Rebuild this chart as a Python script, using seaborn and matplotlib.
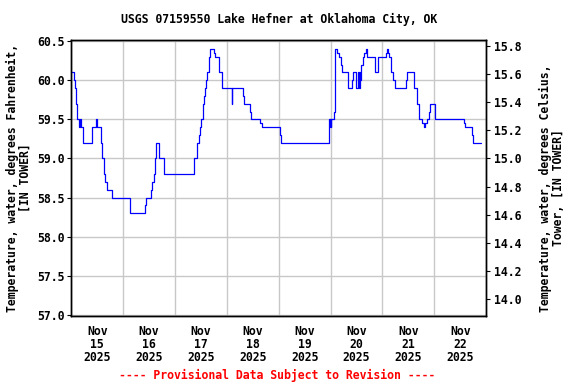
import numpy as np
import pandas as pd
import matplotlib
matplotlib.use("Agg")
import matplotlib.pyplot as plt
import matplotlib.dates as mdates
import seaborn as sns

# ---- data (days since 2025-11-15 00:00, water temperature in deg F) ----
day_offsets = [
    0.000, 0.044, 0.063, 0.095, 0.108, 0.153, 0.165, 0.178, 0.230, 0.403,
    0.480, 0.500, 0.577, 0.596, 0.622, 0.654, 0.680, 0.789, 1.135, 1.412,
    1.431, 1.540, 1.559, 1.585, 1.611, 1.636, 1.688, 1.778, 1.791, 2.368,
    2.426, 2.459, 2.478, 2.497, 2.542, 2.561, 2.580, 2.600, 2.619, 2.658,
    2.677, 2.754, 2.773, 2.850, 2.908, 3.088, 3.101, 3.319, 3.338, 3.454,
    3.473, 3.647, 3.667, 4.019, 4.045, 4.969, 4.980, 4.995, 5.005, 5.015,
    5.060, 5.079, 5.092, 5.131, 5.156, 5.208, 5.220, 5.336, 5.413, 5.432,
    5.490, 5.535, 5.548, 5.560, 5.572, 5.593, 5.618, 5.651, 5.676, 5.702,
    5.863, 5.920, 6.075, 6.094, 6.113, 6.132, 6.158, 6.209, 6.248, 6.460,
    6.479, 6.608, 6.659, 6.710, 6.762, 6.800, 6.820, 6.852, 6.903, 6.922,
    7.006, 7.571, 7.590, 7.731, 7.744, 7.905,
]
temps_f = [
    60.1, 60.0, 59.9, 59.7, 59.5, 59.4, 59.5, 59.4, 59.2, 59.4,
    59.5, 59.4, 59.2, 59.0, 58.8, 58.7, 58.6, 58.5, 58.3, 58.4,
    58.5, 58.6, 58.7, 58.8, 59.0, 59.2, 59.0, 58.9, 58.8, 59.0,
    59.2, 59.3, 59.4, 59.5, 59.7, 59.8, 59.9, 60.0, 60.1, 60.3,
    60.4, 60.35, 60.3, 60.1, 59.9, 59.7, 59.9, 59.8, 59.7, 59.6,
    59.5, 59.45, 59.4, 59.3, 59.2, 59.5, 59.4, 59.5, 59.4, 59.5,
    59.6, 60.0, 60.4, 60.35, 60.3, 60.2, 60.1, 59.9, 60.0, 60.1,
    59.9, 60.1, 59.9, 60.1, 60.0, 60.2, 60.3, 60.35, 60.4, 60.3,
    60.1, 60.3, 60.35, 60.4, 60.35, 60.3, 60.1, 60.0, 59.9, 60.0,
    60.1, 59.9, 59.7, 59.5, 59.45, 59.4, 59.45, 59.5, 59.6, 59.7,
    59.5, 59.45, 59.4, 59.3, 59.2, 59.2,
]
x_tick_labels = ["Nov\n15\n2025", "Nov\n16\n2025", "Nov\n17\n2025", "Nov\n18\n2025",
                 "Nov\n19\n2025", "Nov\n20\n2025", "Nov\n21\n2025", "Nov\n22\n2025"]
f_ticks = [57.0, 57.5, 58.0, 58.5, 59.0, 59.5, 60.0, 60.5]
c_ticks = [14.0, 14.2, 14.4, 14.6, 14.8, 15.0, 15.2, 15.4, 15.6, 15.8]

title = "USGS 07159550 Lake Hefner at Oklahoma City, OK"
left_label = "Temperature, water, degrees Fahrenheit,\n[IN TOWER]"
right_label = "Temperature, water, degrees Celsius,\nTower, [IN TOWER]"
footer = "---- Provisional Data Subject to Revision ----"

start = pd.Timestamp("2025-11-15 00:00")
df = pd.DataFrame({
    "time": start + pd.to_timedelta(day_offsets, unit="D"),
    "temp": temps_f,
})

sns.set_style("white")
plt.rcParams["font.family"] = ["DejaVu Sans Mono"]
plt.rcParams["font.weight"] = "bold"
plt.rcParams["text.color"] = "black"
plt.rcParams["axes.labelcolor"] = "black"
plt.rcParams["xtick.color"] = "black"
plt.rcParams["ytick.color"] = "black"
FS = 8.3

fig = plt.figure(figsize=(5.76, 3.84), dpi=100)
ax = fig.add_axes([0.124, 0.178, 0.720, 0.719])

sns.lineplot(data=df, x="time", y="temp", ax=ax, color="#0000FF",
             linewidth=0.9, drawstyle="steps-post", estimator=None)

ylo, yhi = 56.99, 60.52
ax.set_ylim(ylo, yhi)
x0 = mdates.date2num(start)
ax.set_xlim(x0, x0 + 8)

midnights = [x0 + i for i in range(9)]
noons = [x0 + i + 0.5 for i in range(8)]
ax.set_xticks(midnights)
ax.set_xticklabels([""] * len(midnights))
ax.set_xticks(noons, minor=True)
ax.set_xticklabels(x_tick_labels, minor=True, fontsize=FS, fontweight="bold",
                   linespacing=1.0, color="black")
ax.tick_params(axis="x", which="both", length=0, pad=7)

ax.set_yticks(f_ticks)
ax.set_yticklabels([f"{v:.1f}" for v in f_ticks], fontsize=FS, fontweight="bold",
                   color="black")
ax.tick_params(axis="y", length=3, width=0.8, pad=2, direction="out", left=True,
               color="black")

ax.grid(True, which="major", color="#c8c8c8", linewidth=1.0)
ax.set_xlabel("")
ax.set_ylabel("")
for s in ax.spines.values():
    s.set_color("black")
    s.set_linewidth(1.0)

ax2 = ax.twinx()
ax2.set_ylim((ylo - 32) / 1.8, (yhi - 32) / 1.8)
ax2.set_yticks(c_ticks)
ax2.set_yticklabels([f"{v:.1f}" for v in c_ticks], fontsize=FS, fontweight="bold",
                    color="black")
ax2.tick_params(axis="y", length=3, width=0.8, pad=3, direction="out", right=True,
                color="black")
ax2.grid(False)
for s in ax2.spines.values():
    s.set_color("black")
    s.set_linewidth(1.0)

fig.text(278.7 / 576, 1 - 19 / 384, title, ha="center", va="center",
         fontsize=FS, fontweight="bold", color="black")
fig.text(18.5 / 576, 1 - 178 / 384, left_label, ha="center", va="center",
         rotation=90, fontsize=FS, fontweight="bold", linespacing=1.0, color="black")
fig.text(551.5 / 576, 1 - 188 / 384, right_label, ha="center", va="center",
         rotation=90, fontsize=FS, fontweight="bold", linespacing=1.0, color="black")
fig.text(277 / 576, 1 - 375 / 384, footer, ha="center", va="center",
         fontsize=FS, fontweight="bold", color="red")

fig.savefig("out.png", dpi=100)
